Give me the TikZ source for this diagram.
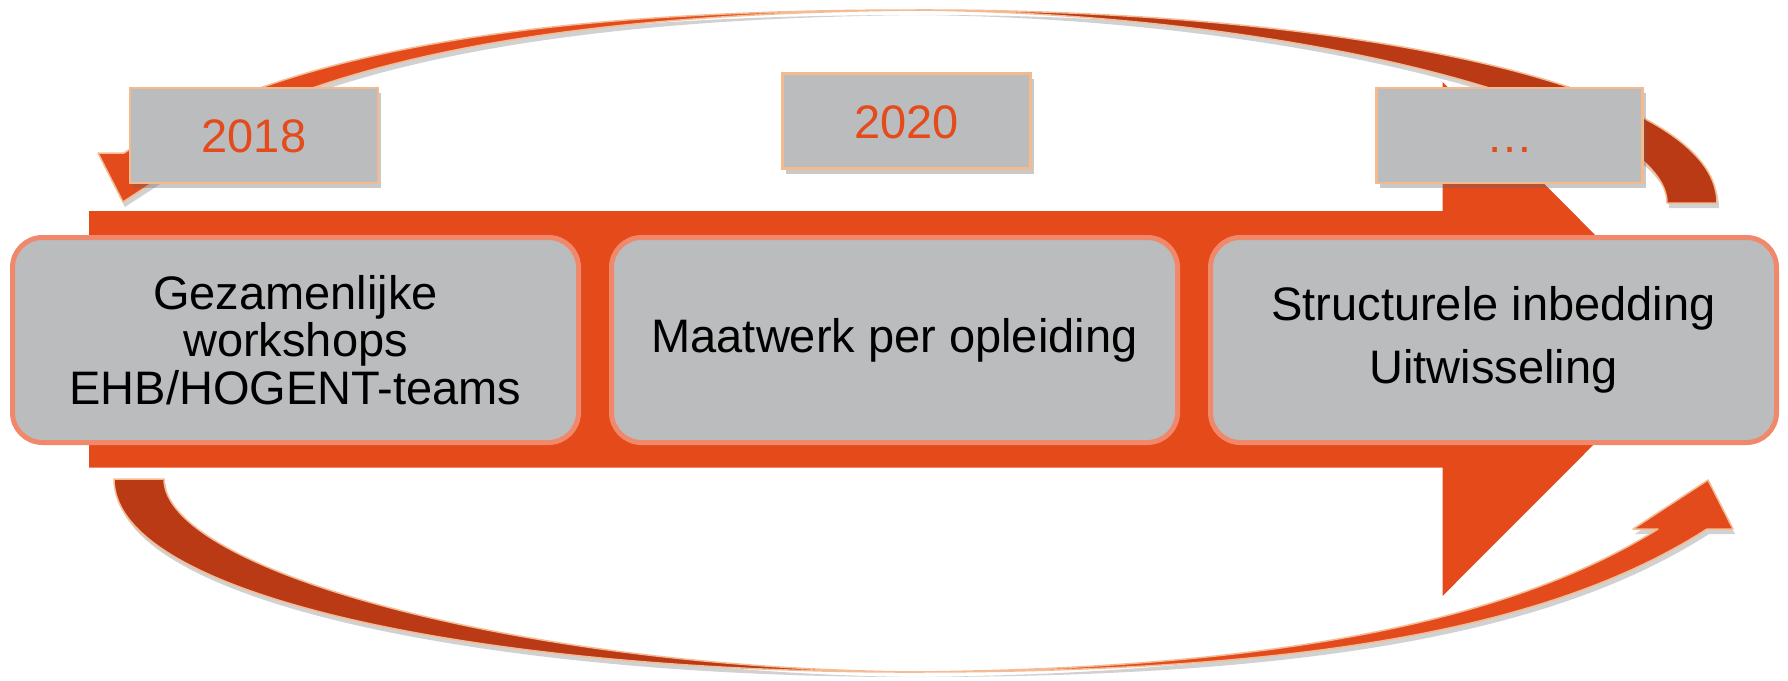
\documentclass[tikz,border=0pt]{standalone}
\usepackage{fontspec}
\setmainfont{Liberation Sans}
\usetikzlibrary{shadows}
\definecolor{bandorange}{RGB}{229,74,27}
\definecolor{arcdarkc}{RGB}{186,58,22}
\definecolor{arcbrightc}{RGB}{228,75,28}
\definecolor{arcline}{RGB}{244,188,148}
\definecolor{boxgray}{RGB}{187,188,190}
\definecolor{boxborder}{RGB}{240,137,108}
\definecolor{yearborder}{RGB}{244,185,140}
\definecolor{yeartext}{RGB}{229,74,27}
\begin{document}
\begin{tikzpicture}[x=1pt,y=-1pt,
  darkpath/.style={insert path={(114,479) .. controls (114,600) and (500,673) .. (915,672) .. controls (520,668) and (164,570) .. (164,479) -- cycle}},
  brightpath/.style={insert path={(915,672) .. controls (1300,672) and (1550,630) .. (1707,529) -- (1733,529) -- (1708,480) -- (1633,529) -- (1658,529) .. controls (1520,615) and (1300,668) .. (915,672) -- cycle}},
  shadowfill/.style={fill=black, opacity=0.18},
  arcdark/.style={fill=arcdarkc, draw=arcline, line width=1.5pt, line join=round},
  arcbright/.style={fill=arcbrightc, draw=arcline, line width=1.5pt, line join=round},
  stagebox/.style={draw=boxborder, line width=5pt, fill=boxgray, rounded corners=30pt,
    minimum width=566pt, minimum height=205pt, align=center, inner sep=0pt,
    font=\fontsize{47}{47.5}\selectfont},
  yearbox/.style={draw=yearborder, line width=2.5pt, fill=boxgray, inner sep=0pt,
    minimum height=95pt, text height=34pt, text depth=0pt, text=yeartext,
    font=\fontsize{47}{47}\selectfont,
    drop shadow={shadow xshift=3pt, shadow yshift=-5pt, opacity=0.35, fill=black!60}}
]
\useasboundingbox (0,0) rectangle (1788,680);
\fill[white] (0,0) rectangle (1788,680);

% shadows of the curved arrows
\begin{scope}[shift={(2,5)}]
  \fill[shadowfill] [darkpath];
  \fill[shadowfill] [brightpath];
  \begin{scope}[rotate around={180:(915.5,341)}]
    \fill[shadowfill] [darkpath];
    \fill[shadowfill] [brightpath];
  \end{scope}
\end{scope}

% bottom curved arrow
\path[arcdark] [darkpath];
\path[arcbright] [brightpath];
% top curved arrow (same shape turned half round)
\begin{scope}[rotate around={180:(915.5,341)}]
  \path[arcdark] [darkpath];
  \path[arcbright] [brightpath];
\end{scope}

% big orange arrow
\fill[bandorange] (89,211) -- (1442.5,211) -- (1442.5,82) -- (1699,339)
  -- (1442.5,596) -- (1442.5,467.5) -- (89,467.5) -- cycle;

% year boxes
\node[yearbox, minimum width=248pt] (y2018) at (254,135.5) {2018};
\node[yearbox, minimum width=248pt] (y2020) at (906.5,121) {2020};
\node[yearbox, minimum width=266pt] (ydots) at (1509.5,135.5) {…};

% stage boxes
\node[stagebox] (s1) at (295.5,340) {Gezamenlijke\\workshops\\EHB/HOGENT-teams};
\node[stagebox] (s2) at (894.5,340) {Maatwerk per opleiding};
\node[stagebox, font=\fontsize{47}{63}\selectfont] (s3) at (1493.5,340) {Structurele inbedding\\Uitwisseling};
\end{tikzpicture}
\end{document}
